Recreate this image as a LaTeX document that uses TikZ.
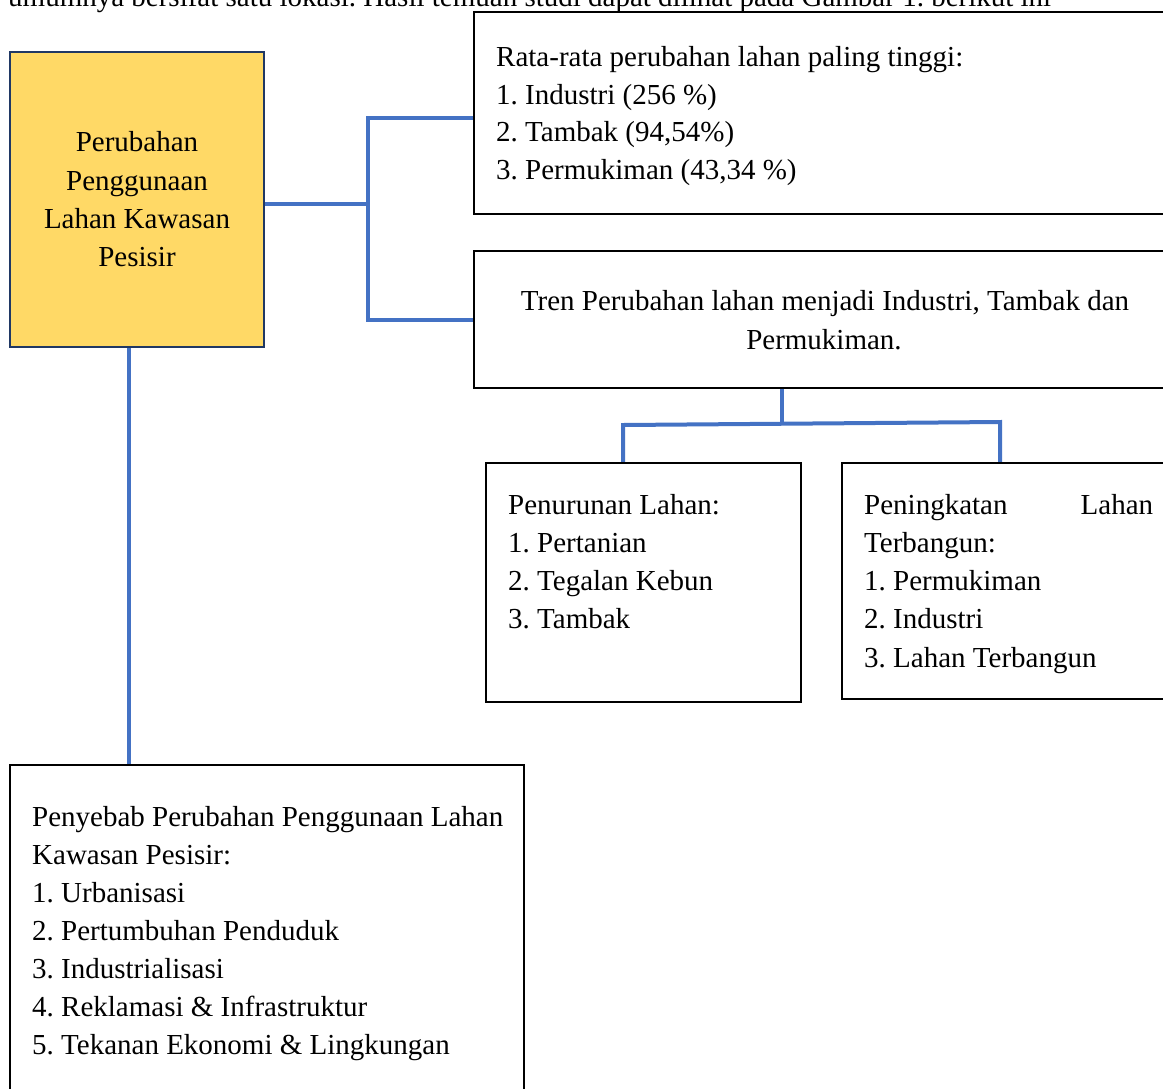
\documentclass[tikz,border=0pt]{standalone}
\usepackage{fontspec}
\setmainfont{Liberation Serif}
\frenchspacing
\definecolor{yel}{HTML}{FFD966}
\definecolor{navy}{HTML}{203864}
\definecolor{conn}{HTML}{4472C4}
\tikzset{
  box/.style={draw=black, line width=2.5pt, rectangle, inner sep=0pt},
  ybox/.style={draw=navy, fill=yel, line width=2pt, rectangle, inner sep=0pt},
  conn/.style={draw=conn, line width=4pt},
  txt/.style={inner sep=0pt, font=\fontsize{29}{38}\selectfont\frenchspacing, anchor=base west},
  ctxt/.style={inner sep=0pt, font=\fontsize{29}{38}\selectfont\frenchspacing, anchor=base},
}
\begin{document}
\begin{tikzpicture}[x=1pt,y=-1pt]
\useasboundingbox (0,0) rectangle (1163,1088);
\clip (0,0) rectangle (1163,1088);
\fill[white] (0,0) rectangle (1163,1088);

\node[txt] (top) at (8,6) {umumnya bersifat satu lokasi. Hasil temuan studi dapat dilihat pada Gambar 1. berikut ini};

% boxes
\node[ybox, minimum width=254pt, minimum height=295pt] (yel) at (137,199.5) {};
\node[box, minimum width=701pt, minimum height=202pt] (boxA) at (824.5,113) {};
\node[box, minimum width=701pt, minimum height=137pt] (boxB) at (824.5,319.5) {};
\node[box, minimum width=315pt, minimum height=239pt] (boxC) at (643.5,582.5) {};
\node[box, minimum width=333pt, minimum height=236pt] (boxD) at (1008.5,581) {};
\node[box, minimum width=514pt, minimum height=335pt] (boxE) at (267,932.5) {};

% connectors
\coordinate (j1) at (368,204);
\draw[conn] (yel.east |- j1) -- (j1);
\draw[conn] (boxA.west |- 0,118) -- (368,118) -- (368,320) -- (boxB.west |- 0,320);
\coordinate (j2) at (782,424);
\draw[conn] (boxB.south -| j2) -- (j2);
\draw[conn] (boxC.north -| 623,0) -- (623,425) -- (1000,422) -- (boxD.north -| 1000,0);
\draw[conn] (yel.south -| 129,0) -- (boxE.north -| 129,0);

% yellow text
\node[ctxt] (y1) at (137,151) {Perubahan};
\node[ctxt] (y2) at (137,190) {Penggunaan};
\node[ctxt] (y3) at (137,228) {Lahan Kawasan};
\node[ctxt] (y4) at (137,266) {Pesisir};

% box A text
\node[txt] (a1) at (496,66) {Rata-rata perubahan lahan paling tinggi:};
\node[txt] (a2) at (496,104) {1. Industri (256 \%)};
\node[txt] (a3) at (496,141) {2. Tambak (94,54\%)};
\node[txt] (a4) at (496,179) {3. Permukiman (43,34 \%)};

% box B text
\node[ctxt] (b1) at (825,310) {Tren Perubahan lahan menjadi Industri, Tambak dan};
\node[ctxt] (b2) at (824,349) {Permukiman.};

% box C text
\node[txt] (c1) at (508,514) {Penurunan Lahan:};
\node[txt] (c2) at (508,552) {1. Pertanian};
\node[txt] (c3) at (508,590) {2. Tegalan Kebun};
\node[txt] (c4) at (508,628) {3. Tambak};

% box D text
\node[txt] (d1) at (864,514) {\hbox to 289pt{Peningkatan\hfill Lahan}};
\node[txt] (d2) at (864,552) {Terbangun:};
\node[txt] (d3) at (864,590) {1. Permukiman};
\node[txt] (d4) at (864,628) {2. Industri};
\node[txt] (d5) at (864,667) {3. Lahan Terbangun};

% box E text
\node[txt] (e1) at (32,826) {Penyebab Perubahan Penggunaan Lahan};
\node[txt] (e2) at (32,864) {Kawasan Pesisir:};
\node[txt] (e3) at (32,902) {1. Urbanisasi};
\node[txt] (e4) at (32,940) {2. Pertumbuhan Penduduk};
\node[txt] (e5) at (32,978) {3. Industrialisasi};
\node[txt] (e6) at (32,1016) {4. Reklamasi \& Infrastruktur};
\node[txt] (e7) at (32,1054) {5. Tekanan Ekonomi \& Lingkungan};
\end{tikzpicture}
\end{document}
